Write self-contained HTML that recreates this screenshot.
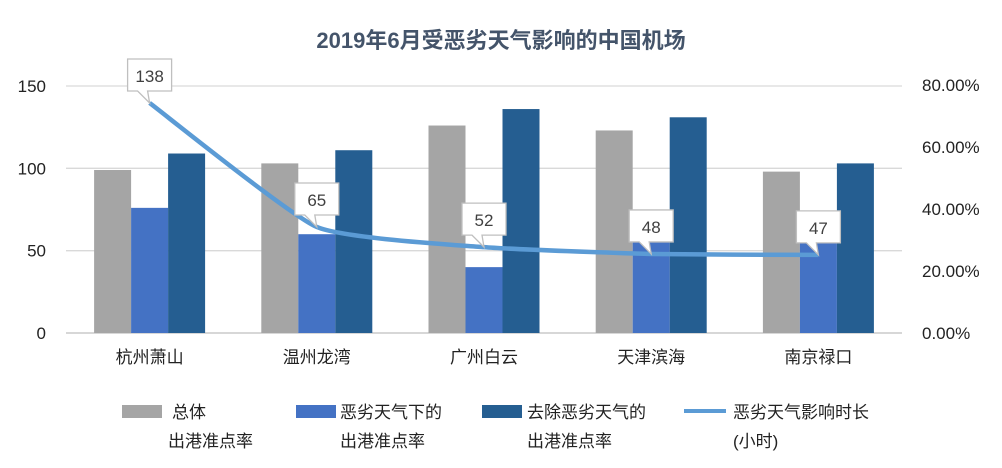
<!DOCTYPE html>
<html><head><meta charset="utf-8"><style>
body{margin:0;background:#fff;font-family:"Liberation Sans","Noto Sans CJK SC",sans-serif;}
#c{width:1002px;height:468px;position:relative;overflow:hidden}
</style></head><body>
<div id="c">
<svg id="s" width="1002" height="468" xmlns="http://www.w3.org/2000/svg">
<text x="501" y="48" text-anchor="middle" font-size="22" font-weight="bold" fill="#44546a" font-family="Liberation Sans, Noto Sans CJK SC, sans-serif">2019年6月受恶劣天气影响的中国机场</text>
<g id="grid"></g><g id="bars"></g><g id="line"></g><g id="axes"></g>
<g font-size="17" fill="#222" font-family="Liberation Sans, Noto Sans CJK SC, sans-serif">
<rect x="122" y="405" width="40" height="13" fill="#a5a5a5"/>
<text x="172" y="418">总体</text>
<text x="168" y="447">出港准点率</text>
<rect x="296" y="405" width="40" height="13" fill="#4472c4"/>
<text x="340" y="418">恶劣天气下的</text>
<text x="340" y="447">出港准点率</text>
<rect x="482" y="405" width="40" height="13" fill="#255e91"/>
<text x="527" y="418">去除恶劣天气的</text>
<text x="527" y="447">出港准点率</text>
<line x1="684" y1="411" x2="726" y2="411" stroke="#5b9bd5" stroke-width="4"/>
<text x="733" y="418">恶劣天气影响时长</text>
<text x="733" y="447">(小时)</text>
</g>
</svg></div>
<script>
const categories=["杭州萧山","温州龙湾","广州白云","天津滨海","南京禄口"];
const totalRate=[99,103,126,123,98];
const badWeatherRate=[76,60,40,64,55];
const exclRate=[109,111,136,131,103];
const durationPct=[74.2,34.2,27.7,25.5,25.2];
const durationLabels=["138","65","52","48","47"];
const leftTicks=[0,50,100,150];
const rightTicks=[0,20,40,60,80];
const NS="http://www.w3.org/2000/svg";
const x0=66,x1=902,yB=333;
const yL=v=>yB-v*(333-86)/150;
const yR=v=>yB-v*(333-85)/80;
const step=(x1-x0)/categories.length;
const cx=i=>x0+step*(i+0.5);
function mk(tag,attrs,parent,txt){const e=document.createElementNS(NS,tag);for(const k in attrs)e.setAttribute(k,attrs[k]);if(txt!==undefined)e.textContent=txt;document.getElementById(parent).appendChild(e);return e;}
leftTicks.forEach(t=>{
 const g=mk('line',{x1:x0,x2:x1,y1:yL(t),y2:yL(t),stroke:t===0?'#bfbfbf':'#d9d9d9','stroke-width':1.3},'grid');
 
 
 const l=mk('text',{x:46,y:yL(t)+6,'text-anchor':'end','font-size':17,fill:'#222'},'axes',t);
 
 
});
rightTicks.forEach(t=>{
 const l=mk('text',{x:922,y:yR(t)+6,'font-size':17,fill:'#222'},'axes',t.toFixed(2)+'%');
 
 
});
const bw=37;
categories.forEach((c,i)=>{
 const xs=cx(i)-bw*1.5;
 [[totalRate,'#a5a5a5','bar-total'],[badWeatherRate,'#4472c4','bar-bad-weather'],[exclRate,'#255e91','bar-excl']].forEach((s,j)=>{
  const r=mk('rect',{x:xs+j*bw,y:yL(s[0][i]),width:bw,height:yB-yL(s[0][i]),fill:s[1]},'bars');
  
  
 });
 const l=mk('text',{x:cx(i),y:363,'text-anchor':'middle','font-size':17,fill:'#222','font-family':'Liberation Sans, Noto Sans CJK SC, sans-serif'},'axes',c);
 
 
});
const pts=durationPct.map((v,i)=>[cx(i),yR(v)]);
let d='M'+pts[0][0]+','+pts[0][1];
for(let i=1;i<pts.length;i++){
 const p0=pts[Math.max(i-2,0)],p1=pts[i-1],p2=pts[i],p3=pts[Math.min(i+1,pts.length-1)];
 const t=0.08;
 d+=` C${p1[0]+(p2[0]-p0[0])*t},${p1[1]+(p2[1]-p0[1])*t} ${p2[0]-(p3[0]-p1[0])*t},${p2[1]-(p3[1]-p1[1])*t} ${p2[0]},${p2[1]}`;
}
const ln=mk('path',{d:d,fill:'none',stroke:'#5b9bd5','stroke-width':4.5,'stroke-linejoin':'round'},'line');


pts.forEach((p,i)=>{
 const bx=p[0]-22,by=p[1]-44,w=44,h=32;
 const cl=mk('path',{d:`M${bx},${by} h${w} v${h} h${-w+20} L${p[0]},${p[1]} L${bx+10},${by+h} H${bx} Z`,fill:'#fff',stroke:'#bfbfbf','stroke-width':1.3},'line');
 
 
 const t=mk('text',{x:bx+w/2,y:by+23,'text-anchor':'middle','font-size':17,fill:'#404040'},'line',durationLabels[i]);
 
 
});
</script>
</body></html>
